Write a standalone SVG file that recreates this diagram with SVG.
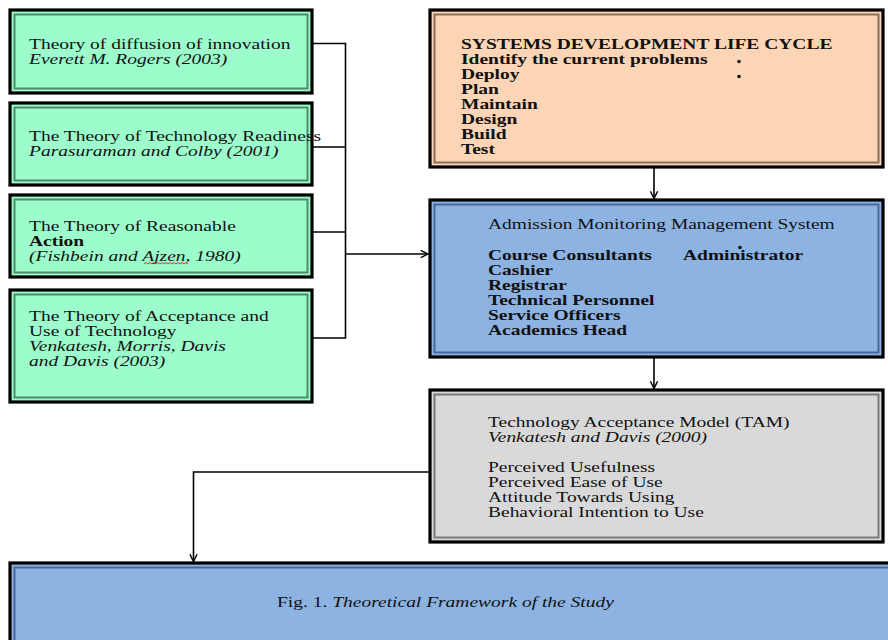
<svg xmlns="http://www.w3.org/2000/svg" width="888" height="640" viewBox="0 0 888 640">
<style>
text{font-family:"Liberation Serif","Times New Roman",serif;font-size:15px;fill:#111}
.b{font-weight:bold}
.i{font-style:italic}
.outer{stroke:#000;stroke-width:3.2}
.g{fill:#9cfccb}
.gi{fill:none;stroke:#4e8a68;stroke-width:2}
.p{fill:#fbd5b5}
.pi{fill:none;stroke:#8c6e5c;stroke-width:2}
.bl{fill:#8db3e2}
.bli{fill:none;stroke:#46699a;stroke-width:2}
.gr{fill:#d9d9d9}
.gri{fill:none;stroke:#7a7a7a;stroke-width:2}
.ln{fill:none;stroke:#000;stroke-width:1.6}
</style>
<defs>
<marker id="arr" viewBox="0 0 10 10" refX="9" refY="5" markerWidth="9" markerHeight="9" markerUnits="userSpaceOnUse" orient="auto">
<path d="M1,1 L9,5 L1,9" fill="none" stroke="#000" stroke-width="1.6"/>
</marker>
</defs>
<rect width="888" height="640" fill="#fff"/>

<g id="connectors">
<path class="ln" d="M312,43.5 H345.5 V338 H312"/>
<path class="ln" d="M312,147 H345.5"/>
<path class="ln" d="M312,232 H345.5"/>
<path class="ln" d="M345.5,254 H428" marker-end="url(#arr)"/>
<path class="ln" d="M654,167 V198.5" marker-end="url(#arr)"/>
<path class="ln" d="M654,357 V388.5" marker-end="url(#arr)"/>
<path class="ln" d="M430,472 H193.5 V561.5" marker-end="url(#arr)"/>
</g>

<g id="theory-diffusion">
<rect class="outer g" x="10" y="10" width="302" height="83"/>
<rect class="gi" x="14.5" y="14.5" width="293" height="74"/>
<g transform="translate(29 0) scale(1.3 1)">
<text y="49">Theory of diffusion of innovation</text>
<text y="64" class="i">Everett M. Rogers (2003)</text>
</g>
</g>

<g id="theory-readiness">
<rect class="outer g" x="10" y="103" width="302" height="82"/>
<rect class="gi" x="14.5" y="107.5" width="293" height="73"/>
<g transform="translate(29 0) scale(1.3 1)">
<text y="141">The Theory of Technology Readiness</text>
<text y="156" class="i">Parasuraman and Colby (2001)</text>
</g>
</g>

<g id="theory-reasoned">
<rect class="outer g" x="10" y="195" width="302" height="82"/>
<rect class="gi" x="14.5" y="199.5" width="293" height="73"/>
<g transform="translate(29 0) scale(1.3 1)">
<text y="231">The Theory of Reasonable</text>
<text y="246" class="b">Action</text>
<text y="261" class="i">(Fishbein and Ajzen, 1980)</text>
</g>
<path d="M144,264 l2,-1.5 l2,1.5 l2,-1.5 l2,1.5 l2,-1.5 l2,1.5 l2,-1.5 l2,1.5 l2,-1.5 l2,1.5 l2,-1.5 l2,1.5 l2,-1.5 l2,1.5 l2,-1.5 l2,1.5 l2,-1.5 l2,1.5 l2,-1.5 l2,1.5 l2,-1.5 l2,1.5" fill="none" stroke="#e02020" stroke-width="0.9"/>
</g>

<g id="theory-acceptance">
<rect class="outer g" x="10" y="290" width="302" height="112"/>
<rect class="gi" x="14.5" y="294.5" width="293" height="103"/>
<g transform="translate(29 0) scale(1.3 1)">
<text y="321">The Theory of Acceptance and</text>
<text y="336">Use of Technology</text>
<text y="351" class="i">Venkatesh, Morris, Davis</text>
<text y="366" class="i">and Davis (2003)</text>
</g>
</g>

<g id="sdlc">
<rect class="outer p" x="430" y="10" width="453" height="157"/>
<rect class="pi" x="434.5" y="14.5" width="444" height="148"/>
<g transform="translate(461 0) scale(1.3 1)" class="b">
<text y="49" class="b">SYSTEMS DEVELOPMENT LIFE CYCLE</text>
<text y="64" class="b">Identify the current problems</text>
<text y="79" class="b">Deploy</text>
<text y="94" class="b">Plan</text>
<text y="109" class="b">Maintain</text>
<text y="124" class="b">Design</text>
<text y="139" class="b">Build</text>
<text y="154" class="b">Test</text>
</g>
<circle cx="739" cy="61.5" r="1.8" fill="#111"/>
<circle cx="739" cy="76.5" r="1.8" fill="#111"/>
</g>

<g id="amms">
<rect class="outer bl" x="430" y="200" width="453" height="157"/>
<rect class="bli" x="434.5" y="204.5" width="444" height="148"/>
<g transform="translate(488 0) scale(1.3 1)">
<text y="229">Admission Monitoring Management System</text>
<text y="260" class="b">Course Consultants</text>
<text y="275" class="b">Cashier</text>
<text y="290" class="b">Registrar</text>
<text y="305" class="b">Technical Personnel</text>
<text y="320" class="b">Service Officers</text>
<text y="335" class="b">Academics Head</text>
</g>
<g transform="translate(683 0) scale(1.3 1)">
<text y="260" class="b">Administrator</text>
</g>
<circle cx="740" cy="247.5" r="1.8" fill="#111"/>
</g>

<g id="tam">
<rect class="outer gr" x="430" y="390" width="453" height="152"/>
<rect class="gri" x="434.5" y="394.5" width="444" height="143"/>
<g transform="translate(488 0) scale(1.3 1)">
<text y="427">Technology Acceptance Model (TAM)</text>
<text y="442" class="i">Venkatesh and Davis (2000)</text>
<text y="472">Perceived Usefulness</text>
<text y="487">Perceived Ease of Use</text>
<text y="502">Attitude Towards Using</text>
<text y="517">Behavioral Intention to Use</text>
</g>
</g>

<g id="framework">
<rect class="outer bl" x="10" y="563" width="890" height="90"/>
<rect class="bli" x="14.5" y="567.5" width="890" height="90"/>
<g transform="translate(277 0) scale(1.3 1)">
<text y="607">Fig. 1. <tspan class="i">Theoretical Framework of the Study</tspan></text>
</g>
</g>
</svg>
